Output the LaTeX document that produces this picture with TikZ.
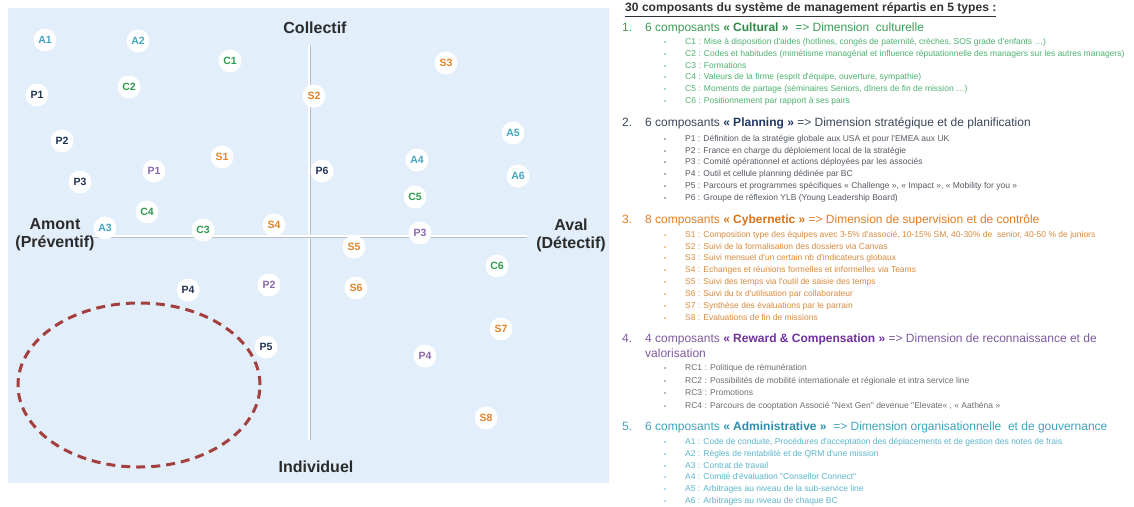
\documentclass[tikz,border=0pt]{standalone}
\usepackage{fontspec}
\setmainfont{Liberation Sans}
\newfontfamily\itemfont{Liberation Sans}
\usetikzlibrary{shapes.geometric}
\definecolor{panelbg}{HTML}{E2EEFA}
\definecolor{axgray}{HTML}{B7C0CB}
\definecolor{axtext}{HTML}{2B2B2B}
\definecolor{cA}{HTML}{45A5C0}
\definecolor{cC}{HTML}{2E9B4E}
\definecolor{cS}{HTML}{E0842A}
\definecolor{cP}{HTML}{1F3352}
\definecolor{cR}{HTML}{8A68AE}
\definecolor{zone}{HTML}{A3403F}
\definecolor{hC}{HTML}{3A9E55}
\definecolor{hCb}{HTML}{2E8B47}
\definecolor{iC}{HTML}{4DB26E}
\definecolor{hP}{HTML}{3A4658}
\definecolor{hPb}{HTML}{1F3864}
\definecolor{iP}{HTML}{555B63}
\definecolor{hS}{HTML}{E07E27}
\definecolor{hSb}{HTML}{D9731C}
\definecolor{iS}{HTML}{D98B3E}
\definecolor{hR}{HTML}{7F5AA0}
\definecolor{hRb}{HTML}{7030A0}
\definecolor{iR}{HTML}{6E6E6E}
\definecolor{hA}{HTML}{3FA3BF}
\definecolor{hAb}{HTML}{2C8FAD}
\definecolor{iA}{HTML}{5BB5CC}
\definecolor{ttl}{HTML}{333333}
\tikzset{
  dot/.style={circle, fill=white, minimum size=23pt, inner sep=0pt, font=\bfseries\fontsize{10.5}{10.5}\selectfont},
  axlabel/.style={font=\bfseries\fontsize{16}{18}\selectfont, text=axtext, align=center, inner sep=0pt},
  itm/.style={anchor=base west, inner sep=0pt, font=\itemfont\fontsize{8.5}{9}\selectfont},
  bul/.style={anchor=base west, inner sep=0pt, font=\fontsize{6}{6}\selectfont},
  hdn/.style={anchor=base west, inner sep=0pt, font=\fontsize{12}{14}\selectfont},
}
\newcommand{\litem}[4]{%
  \node[bul, text=#3] (#2b) at (664,#1) {•};
  \node[itm, text=#3] (#2) at (685,#1) {#4};
}
\begin{document}
\begin{tikzpicture}[x=1pt,y=-1pt]
\useasboundingbox (0,0) rectangle (1134,506);
\fill[white] (0,0) rectangle (1134,506);
% left panel
\node[fill=panelbg, minimum width=601pt, minimum height=475pt, inner sep=0pt, anchor=north west] (panel) at (8,8) {};
% axes
\coordinate (vtop) at (309,45);
\coordinate (vbot) at (309,440);
\coordinate (hl) at (92,236);
\coordinate (hr) at (527,236);
\draw[axgray, line width=2.4pt] ([xshift=1.2pt]vtop) -- ([xshift=1.2pt]vbot);
\draw[white, line width=2pt] (vtop) -- (vbot);
\draw[axgray, line width=2.4pt] ([yshift=-1.2pt]hl) -- ([yshift=-1.2pt]hr);
\draw[white, line width=2pt] (hl) -- (hr);
% axis labels
\node[axlabel] (collectif) at (315,28) {Collectif};
\node[axlabel] (individuel) at (316,467) {Individuel};
\node[axlabel] (amont) at (55,235) {Amont\\(Préventif)};
\node[axlabel] (aval) at (571,235) {Aval\\(Détectif)};
% dashed zone
\node[ellipse, draw=zone, dash pattern=on 9pt off 6pt, line width=3pt, minimum width=242pt, minimum height=164pt, inner sep=0pt] (zonee) at (139,385) {};
% component dots
\node[dot, text=cA] (nA1) at (45,40) {A1};
\node[dot, text=cA] (nA2) at (138,41) {A2};
\node[dot, text=cC] (nC1) at (230,61) {C1};
\node[dot, text=cS] (nS3) at (446,63) {S3};
\node[dot, text=cP] (nP1) at (37,95) {P1};
\node[dot, text=cC] (nC2) at (129,87) {C2};
\node[dot, text=cS] (nS2) at (314,96) {S2};
\node[dot, text=cP] (nP2) at (62,141) {P2};
\node[dot, text=cA] (nA5) at (513,133) {A5};
\node[dot, text=cS] (nS1) at (222,157) {S1};
\node[dot, text=cR] (nR1) at (154,171) {P1};
\node[dot, text=cP] (nP6) at (322,171) {P6};
\node[dot, text=cA] (nA4) at (417,160) {A4};
\node[dot, text=cA] (nA6) at (518,176) {A6};
\node[dot, text=cP] (nP3) at (80,182) {P3};
\node[dot, text=cC] (nC5) at (415,197) {C5};
\node[dot, text=cC] (nC4) at (147,212) {C4};
\node[dot, text=cA] (nA3) at (105,228) {A3};
\node[dot, text=cC] (nC3) at (203,230) {C3};
\node[dot, text=cS] (nS4) at (274,225) {S4};
\node[dot, text=cS] (nS5) at (354,247) {S5};
\node[dot, text=cR] (nR3) at (420,233) {P3};
\node[dot, text=cC] (nC6) at (497,266) {C6};
\node[dot, text=cP] (nP4) at (188,290) {P4};
\node[dot, text=cR] (nR2) at (269,285) {P2};
\node[dot, text=cS] (nS6) at (356,288) {S6};
\node[dot, text=cS] (nS7) at (501,329) {S7};
\node[dot, text=cP] (nP5) at (266,347) {P5};
\node[dot, text=cR] (nR4) at (425,356) {P4};
\node[dot, text=cS] (nS8) at (486,418) {S8};
% right panel: title
\node[anchor=base west, inner sep=0pt, text=ttl, font=\bfseries\fontsize{12.1}{13}\selectfont] (title) at (625,12) {\underline{30 composants du système de management répartis en 5 types :}};
% 1 Cultural
\node[hdn, text=hC] (h1n) at (622,31.5) {1.};
\node[hdn, text=hC] (h1) at (645,31.5) {6 composants \textcolor{hCb}{\textbf{« Cultural »}}\ \ => Dimension\ \ culturelle};
\litem{44}{c1}{iC}{C1 : Mise à disposition d'aides (hotlines, congés de paternité, crèches, SOS grade d'enfants …)}
\litem{56}{c2}{iC}{C2 : Codes et habitudes (mimétisme managérial et influence réputationnelle des managers sur les autres managers)}
\litem{68}{c3}{iC}{C3 : Formations}
\litem{79.5}{c4}{iC}{C4 : Valeurs de la firme (esprit d'équipe, ouverture, sympathie)}
\litem{91}{c5}{iC}{C5 : Moments de partage (séminaires Seniors, dîners de fin de mission …)}
\litem{103}{c6}{iC}{C6 : Positionnement par rapport à ses pairs}
% 2 Planning
\node[hdn, text=hP] (h2n) at (622,126.5) {2.};
\node[hdn, text=hP] (h2) at (645,126.5) {6 composants \textcolor{hPb}{\textbf{« Planning »}} => Dimension stratégique et de planification};
\litem{141}{p1}{iP}{P1 : Définition de la stratégie globale aux USA et pour l'EMEA aux UK}
\litem{153}{p2}{iP}{P2 : France en charge du déploiement local de la stratégie}
\litem{164.5}{p3}{iP}{P3 : Comité opérationnel et actions déployées par les associés}
\litem{176}{p4}{iP}{P4 : Outil et cellule planning dédinée par BC}
\litem{188}{p5}{iP}{P5 : Parcours et programmes spécifiques « Challenge », « Impact », « Mobility for you »}
\litem{200}{p6}{iP}{P6 : Groupe de réflexion YLB (Young Leadership Board)}
% 3 Cybernetic
\node[hdn, text=hS] (h3n) at (622,223.5) {3.};
\node[hdn, text=hS] (h3) at (645,223.5) {8 composants \textcolor{hSb}{\textbf{« Cybernetic »}} => Dimension de supervision et de contrôle};
\litem{237}{s1}{iS}{S1 : Composition type des équipes avec 3-5\% d'associé, 10-15\% SM, 40-30\% de\ \ senior, 40-50 \% de juniors}
\litem{249}{s2}{iS}{S2 : Suivi de la formalisation des dossiers via Canvas}
\litem{260.5}{s3}{iS}{S3 : Suivi mensuel d'un certain nb d'indicateurs globaux}
\litem{272}{s4}{iS}{S4 : Echanges et réunions formelles et informelles via Teams}
\litem{284}{s5}{iS}{S5 : Suivi des temps via l'outil de saisie des temps}
\litem{296}{s6}{iS}{S6 : Suivi du tx d'utilisation par collaborateur}
\litem{308}{s7}{iS}{S7 : Synthèse des évaluations par le parrain}
\litem{320}{s8}{iS}{S8 : Evaluations de fin de missions}
% 4 Reward
\node[hdn, text=hR] (h4n) at (622,342.5) {4.};
\node[hdn, text=hR] (h4) at (645,342.5) {4 composants \textcolor{hRb}{\textbf{« Reward \& Compensation »}} => Dimension de reconnaissance et de};
\node[hdn, text=hR] (h4b) at (645,357.5) {valorisation};
\litem{370}{r1}{iR}{RC1 : Politique de rémunération}
\litem{383}{r2}{iR}{RC2 : Possibilités de mobilité internationale et régionale et intra service line}
\litem{395}{r3}{iR}{RC3 : Promotions}
\litem{408}{r4}{iR}{RC4 : Parcours de cooptation Associé "Next Gen" devenue "Elevate« , « Aathéna »}
% 5 Administrative
\node[hdn, text=hA] (h5n) at (622,430.5) {5.};
\node[hdn, text=hA] (h5) at (645,430.5) {6 composants \textcolor{hAb}{\textbf{« Administrative »}}\ \ => Dimension organisationnelle\ \ et de gouvernance};
\litem{444}{a1}{iA}{A1 : Code de conduite, Procédures d'acceptation des déplacements et de gestion des notes de frais}
\litem{456}{a2}{iA}{A2 : Règles de rentabilité et de QRM d'une mission}
\litem{468}{a3}{iA}{A3 : Contrat de travail}
\litem{479}{a4}{iA}{A4 : Comité d'évaluation "Consellor Connect"}
\litem{491}{a5}{iA}{A5 : Arbitrages au niveau de la sub-service line}
\litem{503}{a6}{iA}{A6 : Arbitrages au niveau de chaque BC}
\end{tikzpicture}
\end{document}
